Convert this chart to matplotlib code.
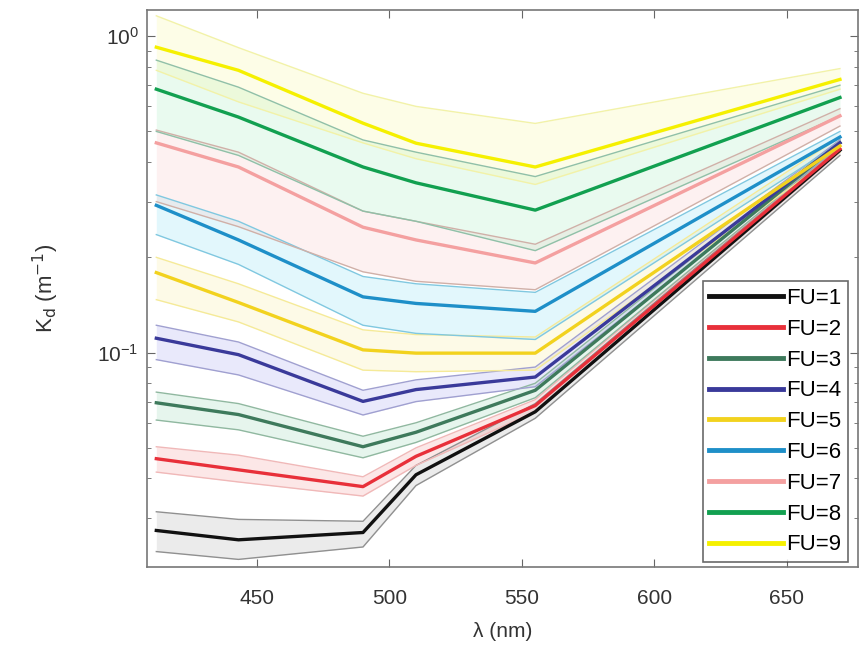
import matplotlib
matplotlib.use('agg')
import matplotlib.pyplot as plt
import numpy as np

plt.rcParams['font.family'] = ['Liberation Sans', 'DejaVu Sans']

# Wavelengths (nm)
wl = [412, 443, 490, 510, 555, 670]

# Kd mean / lower / upper per Forel-Ule class
fu1_mean = [0.0274, 0.0256, 0.0270, 0.0411, 0.065, 0.436]
fu1_low = [0.0235, 0.0222, 0.0243, 0.038, 0.062, 0.42]
fu1_up = [0.0314, 0.0297, 0.0293, 0.044, 0.069, 0.45]

fu2_mean = [0.0462, 0.0426, 0.0377, 0.047, 0.068, 0.44]
fu2_low = [0.0419, 0.039, 0.0352, 0.044, 0.065, 0.43]
fu2_up = [0.0504, 0.0474, 0.0405, 0.050, 0.071, 0.45]

fu3_mean = [0.0694, 0.0637, 0.0504, 0.056, 0.076, 0.46]
fu3_low = [0.0612, 0.057, 0.0465, 0.052, 0.072, 0.45]
fu3_up = [0.075, 0.069, 0.0544, 0.060, 0.080, 0.47]

fu4_mean = [0.111, 0.0985, 0.0701, 0.0764, 0.0837, 0.46]
fu4_low = [0.095, 0.085, 0.0635, 0.070, 0.078, 0.45]
fu4_up = [0.122, 0.108, 0.076, 0.082, 0.090, 0.47]

fu5_mean = [0.179, 0.144, 0.102, 0.0996, 0.0996, 0.45]
fu5_low = [0.147, 0.125, 0.088, 0.087, 0.088, 0.43]
fu5_up = [0.20, 0.165, 0.118, 0.114, 0.112, 0.48]

fu6_mean = [0.292, 0.227, 0.150, 0.143, 0.135, 0.48]
fu6_low = [0.236, 0.19, 0.122, 0.115, 0.11, 0.46]
fu6_up = [0.315, 0.26, 0.174, 0.165, 0.155, 0.50]

fu7_mean = [0.46, 0.386, 0.249, 0.227, 0.192, 0.56]
fu7_low = [0.30, 0.25, 0.18, 0.168, 0.158, 0.52]
fu7_up = [0.505, 0.43, 0.28, 0.26, 0.22, 0.59]

fu8_mean = [0.68, 0.555, 0.386, 0.344, 0.282, 0.64]
fu8_low = [0.50, 0.42, 0.28, 0.26, 0.21, 0.56]
fu8_up = [0.84, 0.69, 0.47, 0.43, 0.36, 0.70]

fu9_mean = [0.923, 0.78, 0.531, 0.459, 0.386, 0.73]
fu9_low = [0.78, 0.62, 0.46, 0.41, 0.34, 0.68]
fu9_up = [1.16, 0.92, 0.66, 0.60, 0.53, 0.79]

labels = ['FU=1', 'FU=2', 'FU=3', 'FU=4', 'FU=5', 'FU=6', 'FU=7', 'FU=8', 'FU=9']
means = [fu1_mean, fu2_mean, fu3_mean, fu4_mean, fu5_mean, fu6_mean, fu7_mean, fu8_mean, fu9_mean]
lows = [fu1_low, fu2_low, fu3_low, fu4_low, fu5_low, fu6_low, fu7_low, fu8_low, fu9_low]
ups = [fu1_up, fu2_up, fu3_up, fu4_up, fu5_up, fu6_up, fu7_up, fu8_up, fu9_up]

colors = ['#111111', '#e8303a', '#3e7a5c', '#3a3a9a', '#f2d21e',
          '#1e8fc8', '#f4a0a0', '#12a050', '#f5f000']
fill_colors = ['#b0b0b0', '#f4a0a0', '#9fd8b8', '#a8a8f0', '#fbeea0',
               '#8fe0f5', '#f8c8c8', '#a8ecc0', '#f8f8a0']
edge_colors = ['#909090', '#f0b8b8', '#90b8a0', '#a0a0d0', '#f5ea98',
               '#80c8e0', '#d0b0a8', '#90c0a8', '#f2f2a8']

fig, ax = plt.subplots(figsize=(8.67, 6.49), dpi=100)
fig.subplots_adjust(left=0.1696, right=0.9896, bottom=0.1263, top=0.9846)

# bands first, then mean lines on top
for lo, hi, fc, ec in zip(lows, ups, fill_colors, edge_colors):
    ax.fill_between(wl, lo, hi, color=fc, alpha=0.25, lw=0)
    ax.plot(wl, lo, color=ec, lw=1.0)
    ax.plot(wl, hi, color=ec, lw=1.0)

for m, c, lab in zip(means, colors, labels):
    ax.plot(wl, m, color=c, lw=2.4, label=lab)

ax.set_yscale('log')
ax.set_xlim(408.5, 676.8)
ax.set_ylim(0.021, 1.21)
ax.set_xticks([450, 500, 550, 600, 650])

ax.tick_params(which='both', direction='in', top=True, right=True,
               labelsize=15, colors='#666666', labelcolor='#333333')
ax.tick_params(which='major', length=6)
ax.tick_params(which='minor', length=3)
ax.tick_params(axis='x', pad=16)
ax.tick_params(axis='y', pad=6)
for s in ax.spines.values():
    s.set_color('#777777')
    s.set_linewidth(1.2)

ax.set_xlabel('λ (nm)', fontsize=15, color='#333333', labelpad=10)
ax.set_ylabel('K$_\\mathrm{d}$ (m$^{-1}$)', fontsize=16, color='#333333', labelpad=26)

leg = ax.legend(loc='lower right', bbox_to_anchor=(0.986, 0.009), fontsize=16,
                frameon=True, fancybox=False, handlelength=3.3, handletextpad=0.15,
                borderpad=0.3, labelspacing=0.44, borderaxespad=0.0)
leg.get_frame().set_edgecolor('#444444')
leg.get_frame().set_linewidth(1.2)
for line in leg.get_lines():
    line.set_linewidth(3.5)

plt.savefig('out.png', dpi=100)
